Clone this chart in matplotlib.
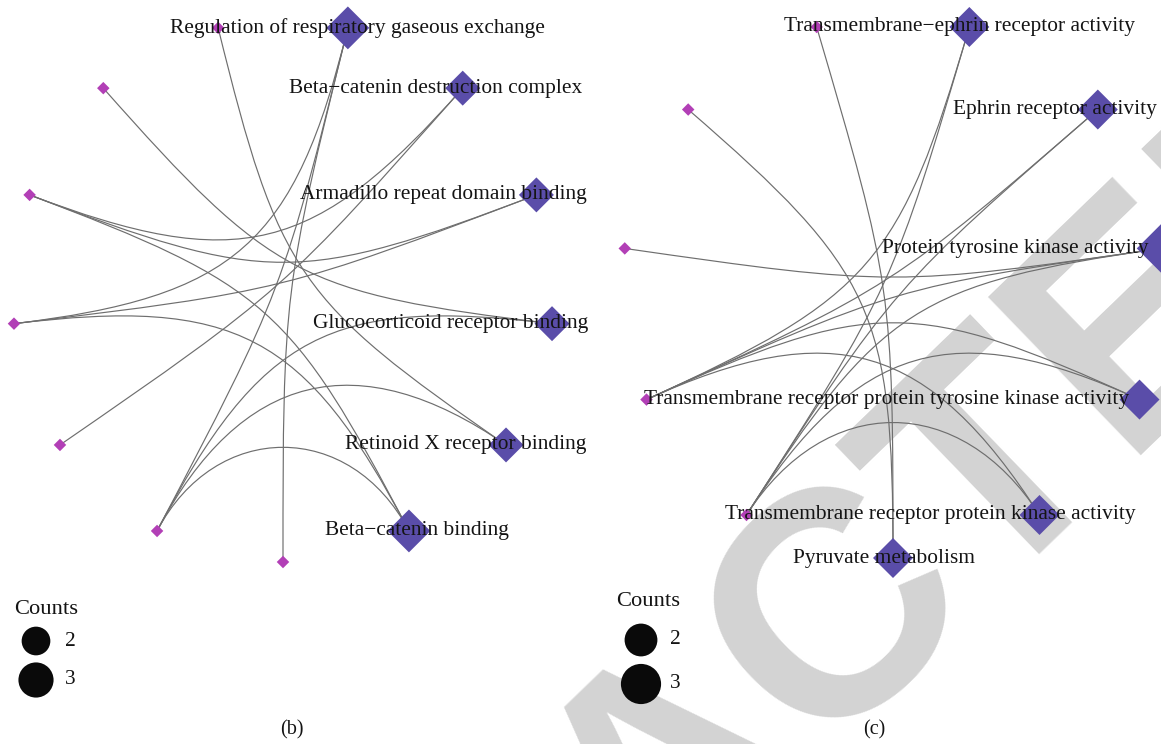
import numpy as np
import matplotlib
matplotlib.use("Agg")
import matplotlib.pyplot as plt
from matplotlib.path import Path
from matplotlib.patches import PathPatch

W, H, DPI = 1161, 744, 100

# ---------------- data ----------------
# panel (b): enriched terms and their member genes (gene ring follows the terms)
b_categories = ["Regulation of respiratory gaseous exchange",
                "Beta\u2212catenin destruction complex",
                "Armadillo repeat domain binding",
                "Glucocorticoid receptor binding",
                "Retinoid X receptor binding",
                "Beta\u2212catenin binding"]
b_counts = [3, 2, 2, 2, 2, 3]
b_n_genes = 7
b_members = [[0, 1, 3], [4, 2], [4, 3], [1, 5], [1, 6], [1, 3, 4]]

# panel (c)
c_categories = ["Transmembrane\u2212ephrin receptor activity",
                "Ephrin receptor activity",
                "Protein tyrosine kinase activity",
                "Transmembrane receptor protein tyrosine kinase activity",
                "Transmembrane receptor protein kinase activity",
                "Pyruvate metabolism"]
c_counts = [2, 2, 3, 2, 2, 2]
c_n_genes = 5
c_members = [[1, 0], [1, 0], [2, 1, 0], [1, 0], [1, 0], [3, 4]]

legend_counts = [2, 3]

# ---------------- layout / style ----------------
# horizontal shift of each term label (pixels) so the labels stay inside the panel
b_label_shift = [10, -27, -93, -101, -40, 8]
c_label_shift = [-10, -43, -146, -253, -109, -9]

CAT_COLOR = "#5A4DA9"
GENE_COLOR = "#B23FB6"
EDGE_COLOR = "#6e6e6e"
TEXT_COLOR = "#141414"
SERIF = ["Liberation Serif", "DejaVu Serif"]
LABEL_SIZE = 15.4
GENE_NODE_PX = 12.5

fig = plt.figure(figsize=(W / DPI, H / DPI), dpi=DPI)
fig.patch.set_facecolor("white")

# diagonal watermark behind the figure content
WM_ANGLE = 44
fig.text(731 / W, -87 / H, "RETRACTED", rotation=WM_ANGLE, rotation_mode="anchor",
         ha="center", va="baseline", fontsize=230, fontweight="bold",
         family=["Liberation Sans", "DejaVu Sans"], color="#d3d3d3", zorder=-5)


def px2pt(px):
    return px * 72.0 / DPI


def arc_path(p0, p3, strength=1.0):
    """Cubic curve between two ring nodes, bending toward the ring centre."""
    half = 0.5 * np.hypot(*(p3 - p0))
    p1 = p0 * (1 - half / np.linalg.norm(p0) * strength)
    p2 = p3 * (1 - half / np.linalg.norm(p3) * strength)
    return Path([p0, p1, p2, p3],
                [Path.MOVETO, Path.CURVE4, Path.CURVE4, Path.CURVE4])


def draw_panel(rect, center, radius, categories, counts, n_genes, members,
               size_unit, label_shift):
    x0, y0, x1, y1 = rect
    cx, cy = center
    ax = fig.add_axes([x0 / W, 1 - y1 / H, (x1 - x0) / W, (y1 - y0) / H])
    ax.set_xlim((x0 - cx) / radius, (x1 - cx) / radius)
    ax.set_ylim((cy - y1) / radius, (cy - y0) / radius)
    ax.set_axis_off()
    ax.patch.set_visible(False)

    n_cat = len(categories)
    n = n_cat + n_genes
    ang = np.deg2rad(90 - (np.arange(n) + 0.5) * 360.0 / n)
    pos = np.column_stack([np.cos(ang), np.sin(ang)])
    cat_pos, gene_pos = pos[:n_cat], pos[n_cat:]

    for ci, genes in enumerate(members):
        for g in genes:
            ax.add_patch(PathPatch(arc_path(cat_pos[ci], gene_pos[g]),
                                   fc="none", ec=EDGE_COLOR, lw=0.85,
                                   zorder=1, clip_on=False))

    diag = size_unit * np.sqrt(np.asarray(counts) / 2.0)
    ax.scatter(cat_pos[:, 0], cat_pos[:, 1], marker="D",
               s=(px2pt(diag) / np.sqrt(2)) ** 2, c=CAT_COLOR,
               edgecolors="none", zorder=2, clip_on=False)
    ax.scatter(gene_pos[:, 0], gene_pos[:, 1], marker="D",
               s=(px2pt(GENE_NODE_PX) / np.sqrt(2)) ** 2, c=GENE_COLOR,
               edgecolors="none", zorder=2, clip_on=False)

    for (x, y), name, dx in zip(cat_pos, categories, label_shift):
        ax.text(x + dx / radius, y, name, ha="center", va="center",
                fontsize=LABEL_SIZE, family=SERIF, color=TEXT_COLOR,
                zorder=3, clip_on=False)
    return ax


draw_panel((0, 0, 580, 600), (283, 291), 271, b_categories, b_counts,
           b_n_genes, b_members, 35, b_label_shift)
draw_panel((580, 0, 1161, 600), (893, 287), 271, c_categories, c_counts,
           c_n_genes, c_members, 40, c_label_shift)

# overlay in pixel units for the size legends and panel captions
ov = fig.add_axes([0, 0, 1, 1])
ov.set_xlim(0, W)
ov.set_ylim(H, 0)
ov.set_axis_off()
ov.patch.set_visible(False)


def size_legend(x_title, y_title, x_mark, y_first, step, size_unit):
    ov.text(x_title, y_title, "Counts", ha="left", va="center", fontsize=16.2,
            family=SERIF, color=TEXT_COLOR)
    for i, cnt in enumerate(legend_counts):
        d = 0.82 * size_unit * np.sqrt(cnt / 2.0)
        y = y_first + i * step
        ov.scatter([x_mark], [y], s=px2pt(d) ** 2, marker="o", c="#0a0a0a",
                   edgecolors="none")
        ov.text(x_mark + 29, y, str(cnt), ha="left", va="center", fontsize=15.4,
                family=SERIF, color=TEXT_COLOR)


size_legend(14, 610, 36, 641, 39, 35)
size_legend(616, 602, 641, 640, 44, 40)

ov.text(292, 730, "(b)", ha="center", va="center", fontsize=14.5,
        family=SERIF, color=TEXT_COLOR)
ov.text(874, 730, "(c)", ha="center", va="center", fontsize=14.5,
        family=SERIF, color=TEXT_COLOR)

fig.savefig("out.png", dpi=DPI, facecolor="white")
